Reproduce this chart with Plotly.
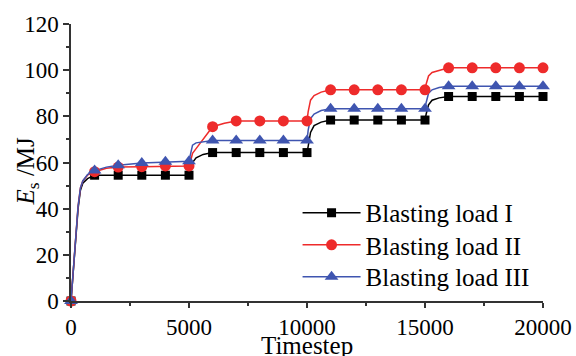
import plotly.graph_objects as go

# ---- data ----
line_t = [0, 100, 200, 300, 400, 500, 700, 1000, 1500, 2000, 3000, 4000, 5000,
          5050, 5150, 5300, 5600, 6000, 6500, 7000, 8000, 9000, 10000,
          10050, 10150, 10300, 10600, 11000, 12000, 13000, 14000, 15000,
          15050, 15150, 15300, 15600, 16000, 17000, 18000, 19000, 20000]
line_I = [0, 14, 28, 40, 48, 51, 53, 54.5, 54.5, 54.5, 54.5, 54.5, 54.5,
          56, 60, 62, 63.5, 64.3, 64.3, 64.3, 64.3, 64.3, 64.3,
          67, 73, 76, 77.5, 78.4, 78.4, 78.4, 78.4, 78.4,
          81, 85, 87, 88, 88.6, 88.6, 88.6, 88.6, 88.6]
line_II = [0, 14, 28, 41, 49, 52, 54.5, 56, 57.5, 58, 58.2, 58.5, 58.5,
           60, 64, 66, 70, 75.5, 77, 78, 78, 78, 78,
           82, 87, 89, 90.5, 91.5, 91.5, 91.5, 91.5, 91.5,
           94, 97.5, 99, 100, 101, 101, 101, 101, 101]
line_III = [0, 14, 28, 41, 49, 52, 54.8, 56.5, 58, 58.8, 59.8, 60.3, 60.5,
            63, 67.5, 68.5, 69, 69.5, 69.5, 69.5, 69.5, 69.5, 69.5,
            74, 79, 81, 82.5, 83.3, 83.3, 83.3, 83.3, 83.3,
            86, 90, 91.5, 92.5, 93, 93, 93, 93, 93]

mark_t = [0, 1000, 2000, 3000, 4000, 5000, 6000, 7000, 8000, 9000, 10000,
          11000, 12000, 13000, 14000, 15000, 16000, 17000, 18000, 19000, 20000]
mark_I = [0, 54.5, 54.5, 54.5, 54.5, 54.5, 64.3, 64.3, 64.3, 64.3, 64.3,
          78.4, 78.4, 78.4, 78.4, 78.4, 88.6, 88.6, 88.6, 88.6, 88.6]
mark_II = [0, 56, 58, 58.2, 58.5, 58.5, 75.5, 78, 78, 78, 78,
           91.5, 91.5, 91.5, 91.5, 91.5, 101, 101, 101, 101, 101]
mark_III = [0, 56.5, 58.8, 59.8, 60.3, 60.5, 69.5, 69.5, 69.5, 69.5, 69.5,
            83.3, 83.3, 83.3, 83.3, 83.3, 93, 93, 93, 93, 93]

x_ticks = [0, 5000, 10000, 15000, 20000]
y_ticks = [0, 20, 40, 60, 80, 100, 120]
x_title = "Timestep"
y_title = "<i>E</i><sub>s</sub> /MJ"

names = ["Blasting load I", "Blasting load II", "Blasting load III"]
colors = ["#000000", "#EE2B2B", "#3F55B0"]
symbols = ["square", "circle", "triangle-up"]
sizes = [9, 11, 12]
legend_ids = ["legend", "legend2", "legend3"]
legend_y = [0.318, 0.202, 0.087]

FONT = "Liberation Serif"


def gapped(vals):
    out = []
    for v in vals:
        out += [v, None]
    return out


fig = go.Figure()
series = [(line_I, mark_I), (line_II, mark_II), (line_III, mark_III)]
for i, (ly, my) in enumerate(series):
    fig.add_trace(go.Scatter(
        x=line_t, y=ly, mode="lines", line=dict(color=colors[i], width=1.5),
        showlegend=False, cliponaxis=False, hoverinfo="skip"))
for i, (ly, my) in enumerate(series):
    fig.add_trace(go.Scatter(
        x=gapped(mark_t), y=gapped(my), mode="lines+markers", name=names[i],
        legend=legend_ids[i], connectgaps=False, cliponaxis=False,
        line=dict(color=colors[i], width=1.5),
        marker=dict(symbol=symbols[i], size=sizes[i], color=colors[i])))

legends = {}
for i, lid in enumerate(legend_ids):
    legends[lid] = dict(x=0.48, y=legend_y[i], xanchor="left", yanchor="middle",
                        bgcolor="rgba(0,0,0,0)", itemwidth=58,
                        font=dict(family=FONT, size=25, color="black"))

fig.update_layout(
    width=576, height=356,
    margin=dict(l=71, r=33, t=24, b=55),
    paper_bgcolor="white", plot_bgcolor="white",
    font=dict(family=FONT, size=23, color="black"),
    **legends,
)

for upd, rng, tv, mdt, tl in [
    (fig.update_xaxes, [0, 20000], x_ticks, 2500, 5),
    (fig.update_yaxes, [0, 120], y_ticks, 10, 6),
]:
    upd(range=rng, tickmode="array", tickvals=tv,
        ticktext=[str(v) for v in tv],
        showline=True, linecolor="#333333", linewidth=1.5,
        ticks="outside", ticklen=tl, tickwidth=1.5, tickcolor="#333333",
        showgrid=False, zeroline=False, automargin=False)
    upd(tickfont_family=FONT, tickfont_size=23, tickfont_color="black")
    upd(minor_ticks="outside", minor_ticklen=3, minor_dtick=mdt,
        minor_tickcolor="#333333", minor_tickwidth=1.5)

# axis titles as annotations for precise placement
fig.add_annotation(text=x_title, xref="paper", yref="paper",
                   x=0.5, y=-0.162, xanchor="center", yanchor="middle",
                   showarrow=False, font=dict(family=FONT, size=25, color="black"))
fig.add_annotation(text=y_title, xref="paper", yref="paper",
                   x=-0.093, y=0.468, xanchor="center", yanchor="middle",
                   textangle=-90, showarrow=False,
                   font=dict(family=FONT, size=25, color="black"))

fig.write_html("out.html")
